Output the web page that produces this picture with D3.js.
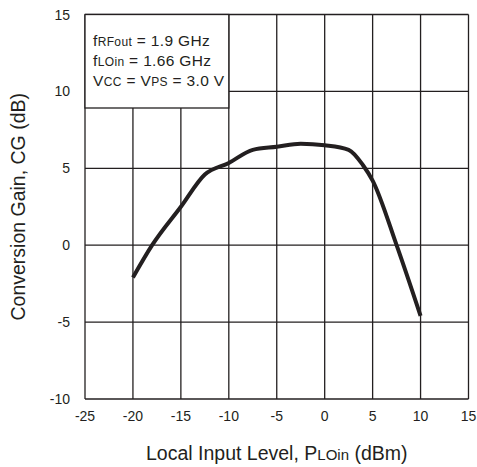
<!DOCTYPE html>
<html>
<head>
<meta charset="utf-8">
<script src="https://cdn.jsdelivr.net/npm/d3@7"></script>
<style>
  body { margin: 0; background: #fff; }
  text { font-family: "Liberation Sans", Arial, sans-serif; fill: #231f20; }
</style>
</head>
<body>
<script>
// curve: local input level (dBm) vs conversion gain (dB)
var levels = [-20, -18, -15, -12.5, -10, -7.5, -5, -2.5, 0, 2.5, 4, 5, 7.5, 10];
var gains = [-2.1, 0, 2.5, 4.6, 5.35, 6.2, 6.4, 6.6, 6.5, 6.2, 5.2, 4.2, 0, -4.6];
var xTicks = [-25, -20, -15, -10, -5, 0, 5, 10, 15];
var yTicks = [-10, -5, 0, 5, 10, 15];

var width = 477, height = 467;
var margin = {"left": 85, "right": 8.5, "top": 14.5, "bottom": 68};

var svg = d3.select("body")
            .append("svg")
            .attr("width", width)
            .attr("height", height);

var xScale = d3.scaleLinear()
               .domain([-25, 15])
               .range([margin.left, width - margin.right]);
var yScale = d3.scaleLinear()
               .domain([-10, 15])
               .range([height - margin.bottom, margin.top]);

// grid
svg.append("g")
   .selectAll("line")
   .data(xTicks)
   .enter()
   .append("line")
   .attr("x1", function(d) { return xScale(d); })
   .attr("x2", function(d) { return xScale(d); })
   .attr("y1", yScale(-10))
   .attr("y2", yScale(15))
   .attr("stroke", "#231f20")
   .attr("stroke-width", 1.3);

svg.append("g")
   .selectAll("line")
   .data(yTicks)
   .enter()
   .append("line")
   .attr("x1", xScale(-25))
   .attr("x2", xScale(15))
   .attr("y1", function(d) { return yScale(d); })
   .attr("y2", function(d) { return yScale(d); })
   .attr("stroke", "#231f20")
   .attr("stroke-width", 1.3);

// tick labels
svg.append("g")
   .selectAll("text")
   .data(xTicks)
   .enter()
   .append("text")
   .attr("x", function(d) { return xScale(d); })
   .attr("y", yScale(-10) + 22)
   .attr("text-anchor", "middle")
   .style("font-size", "14px")
   .text(function(d) { return d; });

svg.append("g")
   .selectAll("text")
   .data(yTicks)
   .enter()
   .append("text")
   .attr("x", margin.left - 15)
   .attr("y", function(d) { return yScale(d) + 5; })
   .attr("text-anchor", "end")
   .style("font-size", "14px")
   .text(function(d) { return d; });

// legend box covers the grid in the top left corner
var box = svg.append("g");
box.append("rect")
   .attr("x", xScale(-25))
   .attr("y", yScale(15))
   .attr("width", xScale(-10) - xScale(-25))
   .attr("height", 93.5)
   .attr("fill", "#fff")
   .attr("stroke", "#231f20")
   .attr("stroke-width", 1.3);

var notes = [
  [["f", 15.5], ["RFout", 12], [" = 1.9 GHz", 15.5]],
  [["f", 15.5], ["LOin", 12], [" = 1.66 GHz", 15.5]],
  [["V", 15.5], ["CC", 12], [" = V", 15.5], ["PS", 12], [" = 3.0 V", 15.5]]
];
notes.forEach(function(parts, i) {
  var t = box.append("text")
             .attr("x", xScale(-25) + 8)
             .attr("y", 46 + i * 20)
             .style("letter-spacing", "0.35px");
  parts.forEach(function(p) {
    t.append("tspan").style("font-size", p[1] + "px").text(p[0]);
  });
});

// curve
var line = d3.line()
             .x(function(d, i) { return xScale(levels[i]); })
             .y(function(d) { return yScale(d); })
             .curve(d3.curveMonotoneX);

svg.append("path")
   .datum(gains)
   .attr("d", line)
   .attr("fill", "none")
   .attr("stroke", "#231f20")
   .attr("stroke-width", 4)
   .attr("stroke-linejoin", "round");

// axis titles
var xTitle = svg.append("text")
   .attr("x", (xScale(-25) + xScale(15)) / 2)
   .attr("y", 460)
   .attr("text-anchor", "middle")
   .style("font-size", "19.5px");
xTitle.append("tspan").text("Local Input Level, P");
xTitle.append("tspan").style("font-size", "15px").text("LOin");
xTitle.append("tspan").text(" (dBm)");

svg.append("text")
   .attr("transform", "translate(25," + ((yScale(-10) + yScale(15)) / 2) + ") rotate(-90)")
   .attr("text-anchor", "middle")
   .style("font-size", "19.5px")
   .text("Conversion Gain, CG (dB)");
</script>
</body>
</html>
